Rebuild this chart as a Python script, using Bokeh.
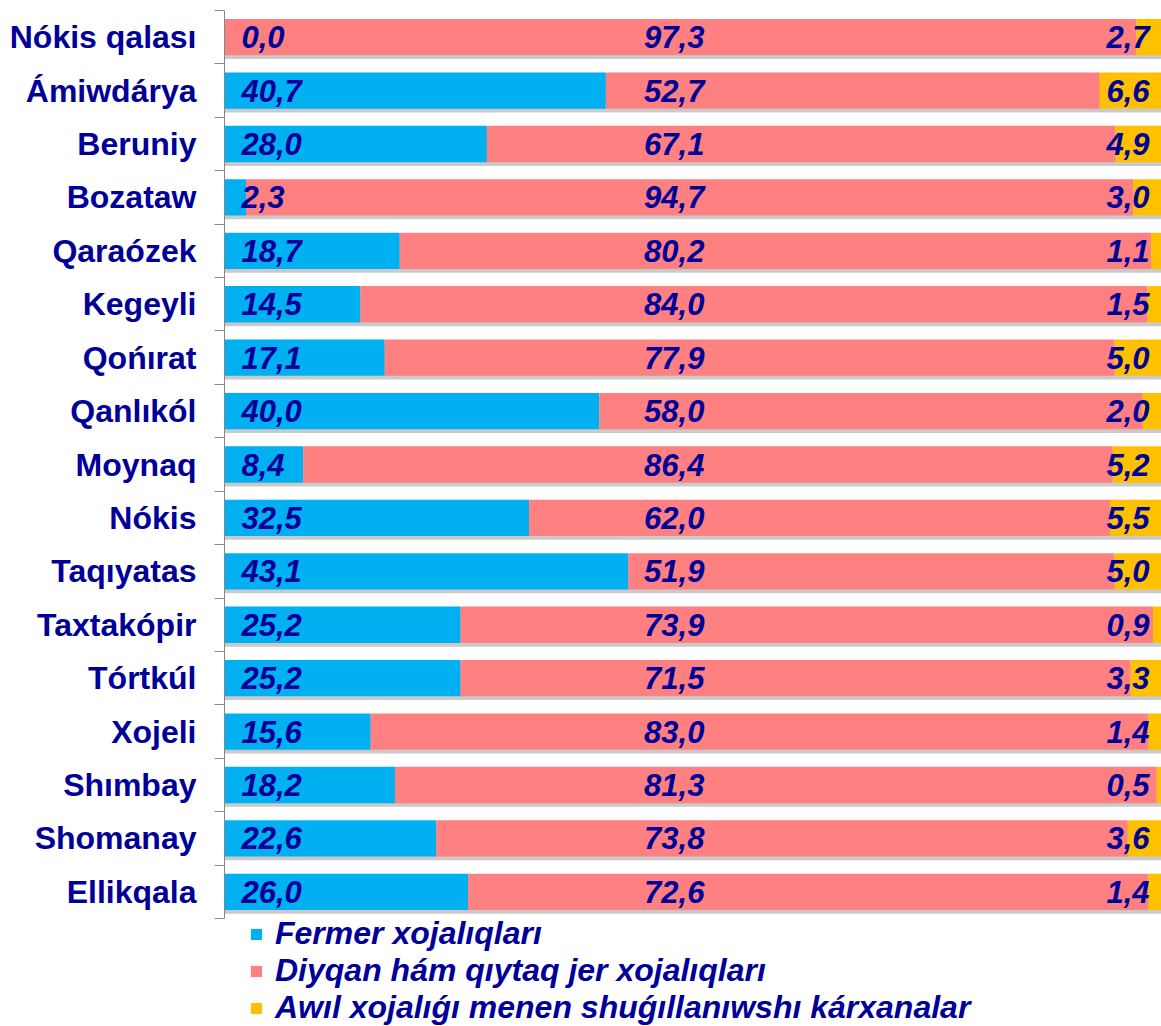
from bokeh.plotting import figure
from bokeh.models import (ColumnDataSource, Range1d, LinearAxis, FixedTicker,
                          Legend, LegendItem)
from bokeh.core.properties import value
from bokeh.embed import file_html
from bokeh.resources import INLINE

categories = ["Nókis qalası", "Ámiwdárya", "Beruniy", "Bozataw", "Qaraózek",
              "Kegeyli", "Qońırat", "Qanlıkól", "Moynaq", "Nókis", "Taqıyatas",
              "Taxtakópir", "Tórtkúl", "Xojeli", "Shımbay", "Shomanay", "Ellikqala"]
fermer = [0.0, 40.7, 28.0, 2.3, 18.7, 14.5, 17.1, 40.0, 8.4, 32.5, 43.1,
          25.2, 25.2, 15.6, 18.2, 22.6, 26.0]
diyqan = [97.3, 52.7, 67.1, 94.7, 80.2, 84.0, 77.9, 58.0, 86.4, 62.0, 51.9,
          73.9, 71.5, 83.0, 81.3, 73.8, 72.6]
awil = [2.7, 6.6, 4.9, 3.0, 1.1, 1.5, 5.0, 2.0, 5.2, 5.5, 5.0,
        0.9, 3.3, 1.4, 0.5, 3.6, 1.4]
series_names = ["Fermer xojalıqları", "Diyqan hám qıytaq jer xojalıqları",
                "Awıl xojalıǵı menen shuǵıllanıwshı kárxanalar"]

C_BLUE = "#00B0F0"
C_PINK = "#FF8080"
C_GOLD = "#FFC000"
TXT = "#000099"
FONT = "Liberation Sans"

def fmt(v):
    return f"{v:.1f}".replace(".", ",")

n = len(categories)
ys = list(range(n))
d_end = [a + b for a, b in zip(fermer, diyqan)]
a_end = [a + b for a, b in zip(d_end, awil)]

src = ColumnDataSource(dict(
    y=ys,
    y_shadow=[y + 0.07 for y in ys],
    f0=[0] * n, f1=fermer, d1=d_end, a1=a_end,
    ft=[fmt(v) for v in fermer],
    dt=[fmt(v) for v in diyqan],
    at=[fmt(v) for v in awil],
    fx=[0] * n, dx=[48.0] * n, ax=[100] * n,
))

W, HGT = 1161, 1026
TOP = 10
BAND = 908 / n                      # pixel height of one category band
frame_h = HGT - TOP
y_end = -0.5 + frame_h / BAND        # extra room below bars for the legend

p = figure(width=W, height=HGT,
           x_range=Range1d(0, 100), y_range=Range1d(y_end, -0.5),
           output_backend="svg", toolbar_location=None,
           x_axis_location=None, y_axis_location=None,
           min_border_left=224, min_border_right=0, min_border_top=TOP,
           min_border_bottom=0)
p.outline_line_color = None
p.grid.visible = False

H = 0.68
p.hbar(y="y_shadow", left="f0", right="a1", height=H, source=src,
       fill_color="#7a7a7a", fill_alpha=0.4, line_color=None)
rf = p.hbar(y="y", left="f0", right="f1", height=H, source=src,
            fill_color=C_BLUE, line_color=None)
rd = p.hbar(y="y", left="f1", right="d1", height=H, source=src,
            fill_color=C_PINK, line_color=None)
ra = p.hbar(y="y", left="d1", right="a1", height=H, source=src,
            fill_color=C_GOLD, line_color=None)

common = dict(source=src, text_font=value(FONT), text_font_size="31px",
              text_font_style="bold italic", text_color=TXT,
              text_baseline="middle")
p.text(x="fx", y="y", text="ft", x_offset=17, text_align="left", **common)
p.text(x="dx", y="y", text="dt", text_align="center", **common)
p.text(x="ax", y="y", text="at", x_offset=-12, text_align="right", **common)

yaxis = LinearAxis(
    bounds=(-0.5, n - 0.5),
    ticker=FixedTicker(ticks=ys, minor_ticks=[y - 0.5 for y in ys] + [n - 0.5]),
    major_label_overrides={y: c for y, c in zip(ys, categories)},
    major_tick_line_color=None, major_tick_out=0, major_tick_in=0,
    minor_tick_line_color="#868686", minor_tick_out=10, minor_tick_in=0,
    axis_line_color="#868686", major_label_standoff=18,
    major_label_text_font=FONT, major_label_text_font_size="32px",
    major_label_text_font_style="bold", major_label_text_color=TXT)
p.add_layout(yaxis, "left")

legend = Legend(items=[LegendItem(label=series_names[0], renderers=[rf]),
                       LegendItem(label=series_names[1], renderers=[rd]),
                       LegendItem(label=series_names[2], renderers=[ra])],
                location=(25, 0), orientation="vertical",
                label_text_font=FONT, label_text_font_size="32px",
                label_text_font_style="bold italic", label_text_color=TXT,
                glyph_width=14, glyph_height=14, label_standoff=12,
                spacing=0, padding=0, margin=0, label_height=35,
                border_line_color=None, background_fill_alpha=0)
p.add_layout(legend)

open("out.html", "w").write(file_html(p, INLINE))
